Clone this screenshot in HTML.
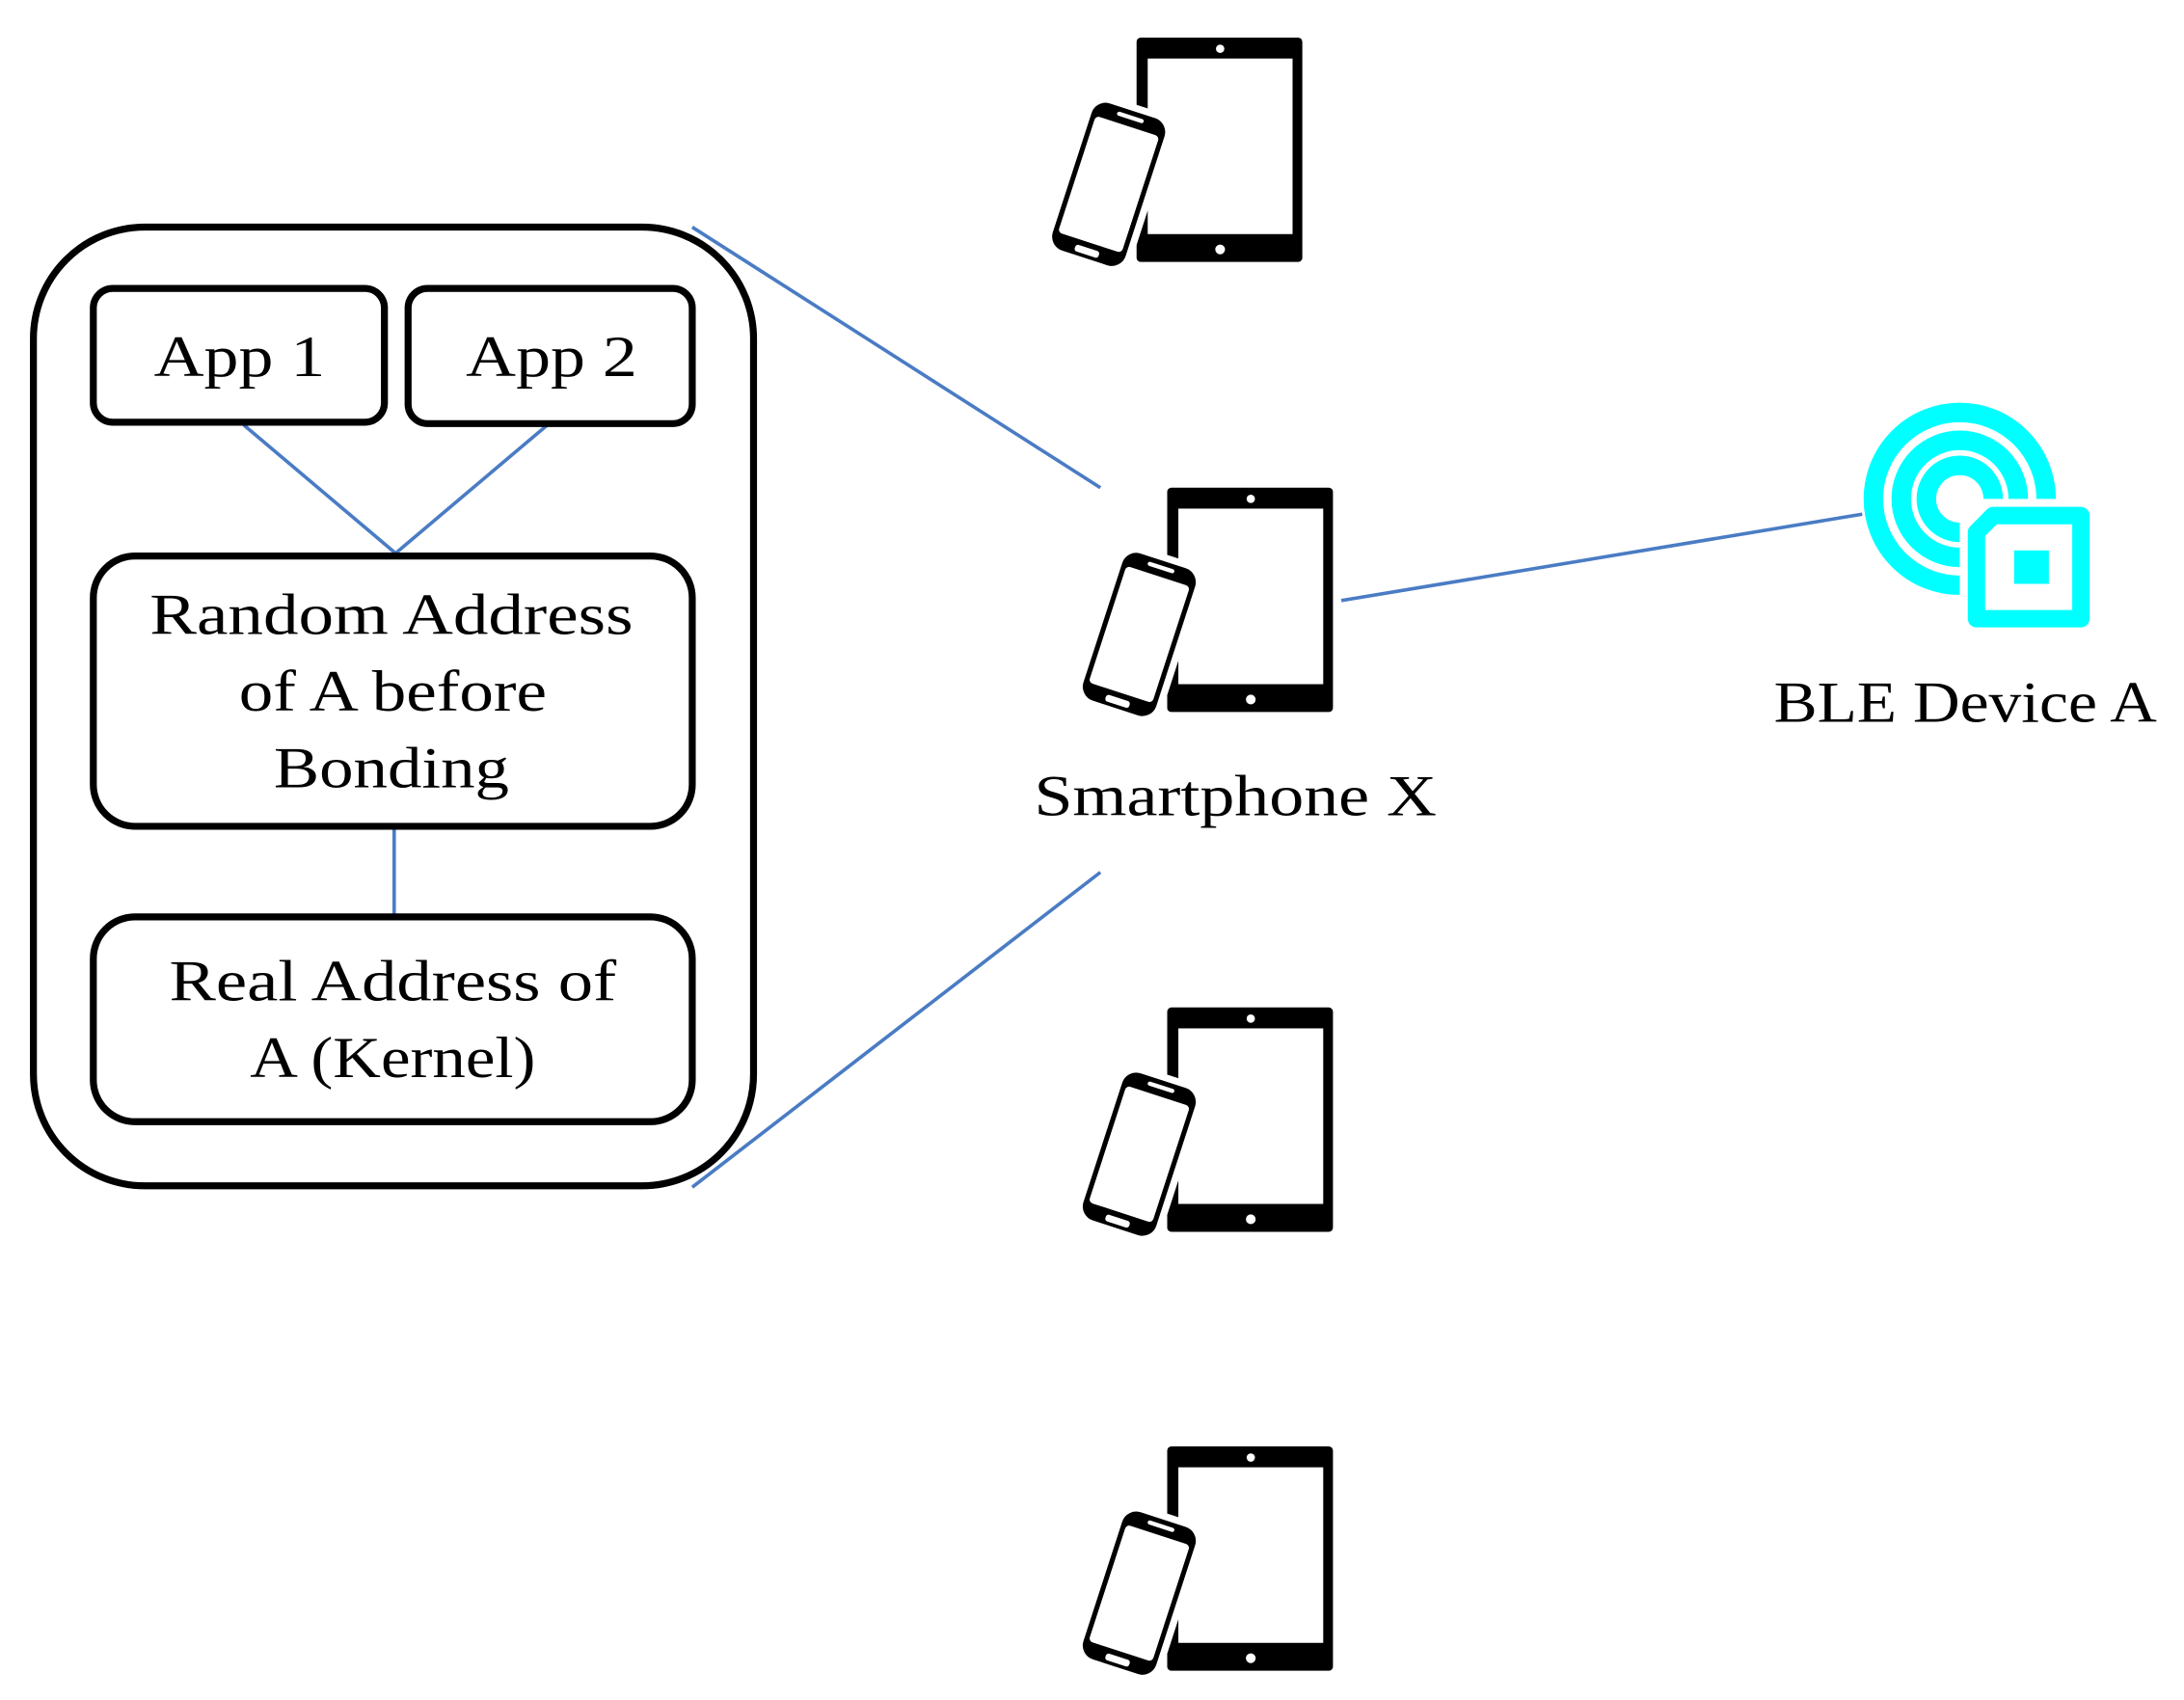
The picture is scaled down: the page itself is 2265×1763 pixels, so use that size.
<!DOCTYPE html>
<html><head><meta charset="utf-8"><style>
html,body{margin:0;padding:0;background:#fff}
svg{display:block}
text{font-family:"Liberation Serif","DejaVu Serif",serif;font-size:42px;fill:#000;text-anchor:middle}
</style></head><body>
<svg width="2265" height="1763" viewBox="0 0 1568 1220" preserveAspectRatio="none" xmlns="http://www.w3.org/2000/svg">
<defs>
<g id="dev">
  <rect x="838" y="350" width="119" height="161" rx="3" fill="#000"/>
  <rect x="846" y="365" width="104" height="126" fill="#fff"/>
  <circle cx="898" cy="358" r="3" fill="#fff"/>
  <circle cx="898" cy="502" r="3.5" fill="#fff"/>
  <g transform="rotate(18 817 455)">
    <rect x="788" y="397" width="60" height="116" rx="13" fill="#000" stroke="#fff" stroke-width="5"/>
    <rect x="794" y="411" width="48" height="88" rx="3" fill="#fff"/>
    <rect x="808" y="403" width="20" height="3" rx="1.5" fill="#fff"/>
    <rect x="809" y="503" width="18" height="5" rx="2" fill="#fff"/>
  </g>
</g>
</defs>
<g stroke="#4a7cc4" stroke-width="2.5" fill="none">
<line x1="175" y1="305" x2="284" y2="397"/>
<line x1="393" y1="305" x2="284" y2="397"/>
<line x1="283" y1="593" x2="283" y2="657"/>
<line x1="497" y1="163" x2="790" y2="350"/>
<line x1="497" y1="852" x2="790" y2="626"/>
<line x1="963" y1="431" x2="1337" y2="369"/>
</g>
<g fill="none" stroke="#000" stroke-width="5">
<rect x="24" y="163" width="517" height="688" rx="80"/>
<rect x="67" y="207" width="209" height="96" rx="14"/>
<rect x="293" y="207" width="204" height="97" rx="14"/>
<rect x="67" y="399" width="430" height="194" rx="30"/>
<rect x="67" y="658" width="430" height="147" rx="30"/>
</g>
<text x="172" y="270" textLength="123" lengthAdjust="spacingAndGlyphs">App 1</text>
<text x="396" y="270" textLength="123" lengthAdjust="spacingAndGlyphs">App 2</text>
<text x="281" y="455" textLength="347" lengthAdjust="spacingAndGlyphs">Random Address</text>
<text x="282" y="510" textLength="221" lengthAdjust="spacingAndGlyphs">of A before</text>
<text x="281" y="565" textLength="169" lengthAdjust="spacingAndGlyphs">Bonding</text>
<text x="282" y="718" textLength="321" lengthAdjust="spacingAndGlyphs">Real Address of</text>
<text x="282" y="773" textLength="205" lengthAdjust="spacingAndGlyphs">A (Kernel)</text>
<text x="887" y="585" textLength="289" lengthAdjust="spacingAndGlyphs">Smartphone X</text>
<text x="1411" y="518" textLength="275" lengthAdjust="spacingAndGlyphs">BLE Device A</text>
<use href="#dev"/>
<use href="#dev" transform="translate(-22,-323)"/>
<use href="#dev" transform="translate(0,373)"/>
<use href="#dev" transform="translate(0,688)"/>
<g fill="none" stroke="#00ffff" stroke-width="14">
<path d="M1469 358 A62 62 0 1 0 1407 420"/>
<path d="M1449 358 A42 42 0 1 0 1407 400"/>
<path d="M1431 358 A24 24 0 1 0 1407 382"/>
</g>
<path d="M1431 370 L1494 370 L1494 444 L1419 444 L1419 382 Z" fill="#fff" stroke="#00ffff" stroke-width="12.5" stroke-linejoin="round"/>
<rect x="1446" y="395" width="25" height="24" fill="#00ffff"/>
</svg>
</body></html>
